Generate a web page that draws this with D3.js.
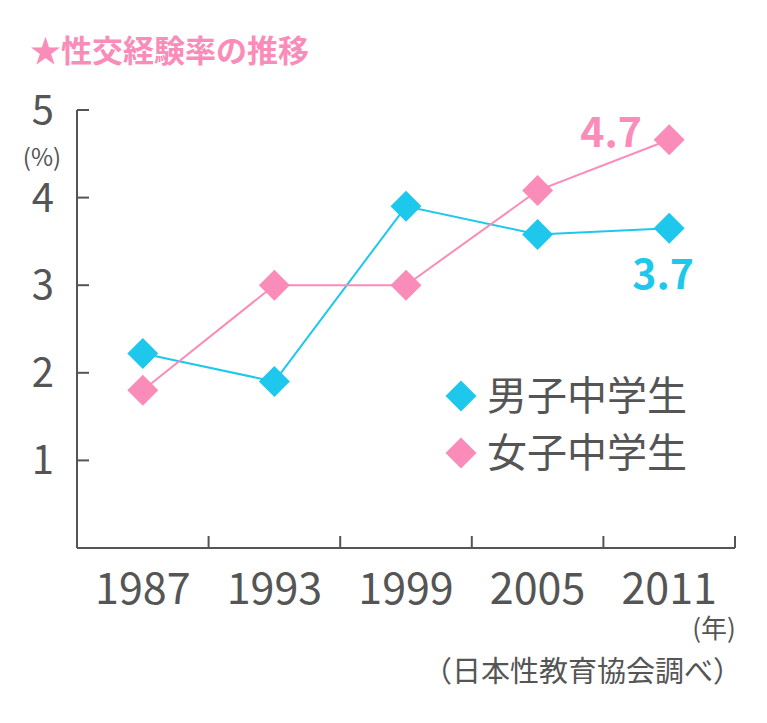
<!DOCTYPE html>
<html><head><meta charset="utf-8">
<script src="https://cdn.jsdelivr.net/npm/d3@7"></script>
<style>body{margin:0;background:#fff;font-family:"Noto Sans CJK JP","Noto Sans",sans-serif;}</style>
</head><body><div id="chart"></div>
<script>
var years = ["1987", "1993", "1999", "2005", "2011"];
var boys = [2.22, 1.9, 3.9, 3.58, 3.65];
var girls = [1.8, 3.0, 3.0, 4.08, 4.66];
var yTicks = [1, 2, 3, 4, 5];

var width = 767, height = 723,
		grey = "#555", cyan = "#1ec8ec", pink = "#fa8cb9";

var svg = d3.select("#chart").append("svg").attr("width", width).attr("height", height);

var x = d3.scaleBand().domain(years).range([77, 735]);
var y = d3.scaleLinear().domain([0, 5]).range([548, 110]);

// axes
svg.append("line").attr("x1", 77).attr("x2", 77).attr("y1", 110).attr("y2", 548).attr("stroke", grey).attr("stroke-width", 2);
svg.append("line").attr("x1", 77).attr("x2", 735).attr("y1", 548).attr("y2", 548).attr("stroke", grey).attr("stroke-width", 2);
svg.selectAll(".yt").data(yTicks).enter().append("line")
		.attr("x1", 77).attr("x2", 89).attr("y1", y).attr("y2", y).attr("stroke", grey).attr("stroke-width", 2);
var xEdges = years.map(function(d) { return x(d); }).concat([735]);
svg.selectAll(".xt").data(xEdges.slice(1)).enter().append("line")
		.attr("x1", function(d) { return d; }).attr("x2", function(d) { return d; })
		.attr("y1", 536).attr("y2", 548).attr("stroke", grey).attr("stroke-width", 2);

svg.selectAll(".yl").data(yTicks).enter().append("text")
		.attr("x", 54).attr("y", function(d) { return y(d) + 14; }).attr("text-anchor", "end")
		.attr("font-size", 40).attr("fill", grey).text(function(d) { return d; });
svg.append("text").attr("x", 42).attr("y", 166).attr("text-anchor", "middle").attr("font-size", 24).attr("fill", grey).text("(%)");

svg.selectAll(".xl").data(years).enter().append("text")
		.attr("x", function(d) { return x(d) + x.bandwidth() / 2; }).attr("y", 604)
		.attr("text-anchor", "middle").attr("font-size", 43).attr("fill", grey).text(function(d) { return d; });
svg.append("text").attr("x", 714).attr("y", 638).attr("text-anchor", "middle").attr("font-size", 26).attr("fill", grey).text("(年)");
svg.append("text").attr("x", 742).attr("y", 682).attr("text-anchor", "end").attr("font-size", 29).attr("fill", grey).text("（日本性教育協会調べ）");

svg.append("text").attr("x", 30).attr("y", 62).attr("font-size", 31).attr("font-weight", "bold").attr("fill", pink).text("★性交経験率の推移");

var line = d3.line().x(function(d, i) { return x(years[i]) + x.bandwidth() / 2; }).y(function(d) { return y(d); });
var diamond = d3.symbol().type(d3.symbolSquare).size(480);

function series(vals, color) {
	svg.append("path").attr("d", line(vals)).attr("fill", "none").attr("stroke", color).attr("stroke-width", 2);
	svg.selectAll(null).data(vals).enter().append("path").attr("d", diamond)
			.attr("transform", function(d, i) { return "translate(" + (x(years[i]) + x.bandwidth() / 2) + "," + y(d) + ") rotate(45)"; })
			.attr("fill", color);
}
series(boys, cyan);
series(girls, pink);

svg.append("text").attr("x", 694).attr("y", 289).attr("text-anchor", "end").attr("font-size", 41).attr("font-weight", "bold").attr("fill", cyan).text("3.7");
svg.append("text").attr("x", 642).attr("y", 147).attr("text-anchor", "end").attr("font-size", 41).attr("font-weight", "bold").attr("fill", pink).text("4.7");

// legend
var legend = [["男子中学生", cyan], ["女子中学生", pink]];
var lg = svg.selectAll(".lg").data(legend).enter().append("g")
		.attr("transform", function(d, i) { return "translate(461," + (396 + i * 57) + ")"; });
lg.append("path").attr("d", diamond).attr("transform", "rotate(45)").attr("fill", function(d) { return d[1]; });
lg.append("text").attr("x", 26).attr("y", 14).attr("font-size", 40).attr("fill", grey).text(function(d) { return d[0]; });
</script></body></html>
